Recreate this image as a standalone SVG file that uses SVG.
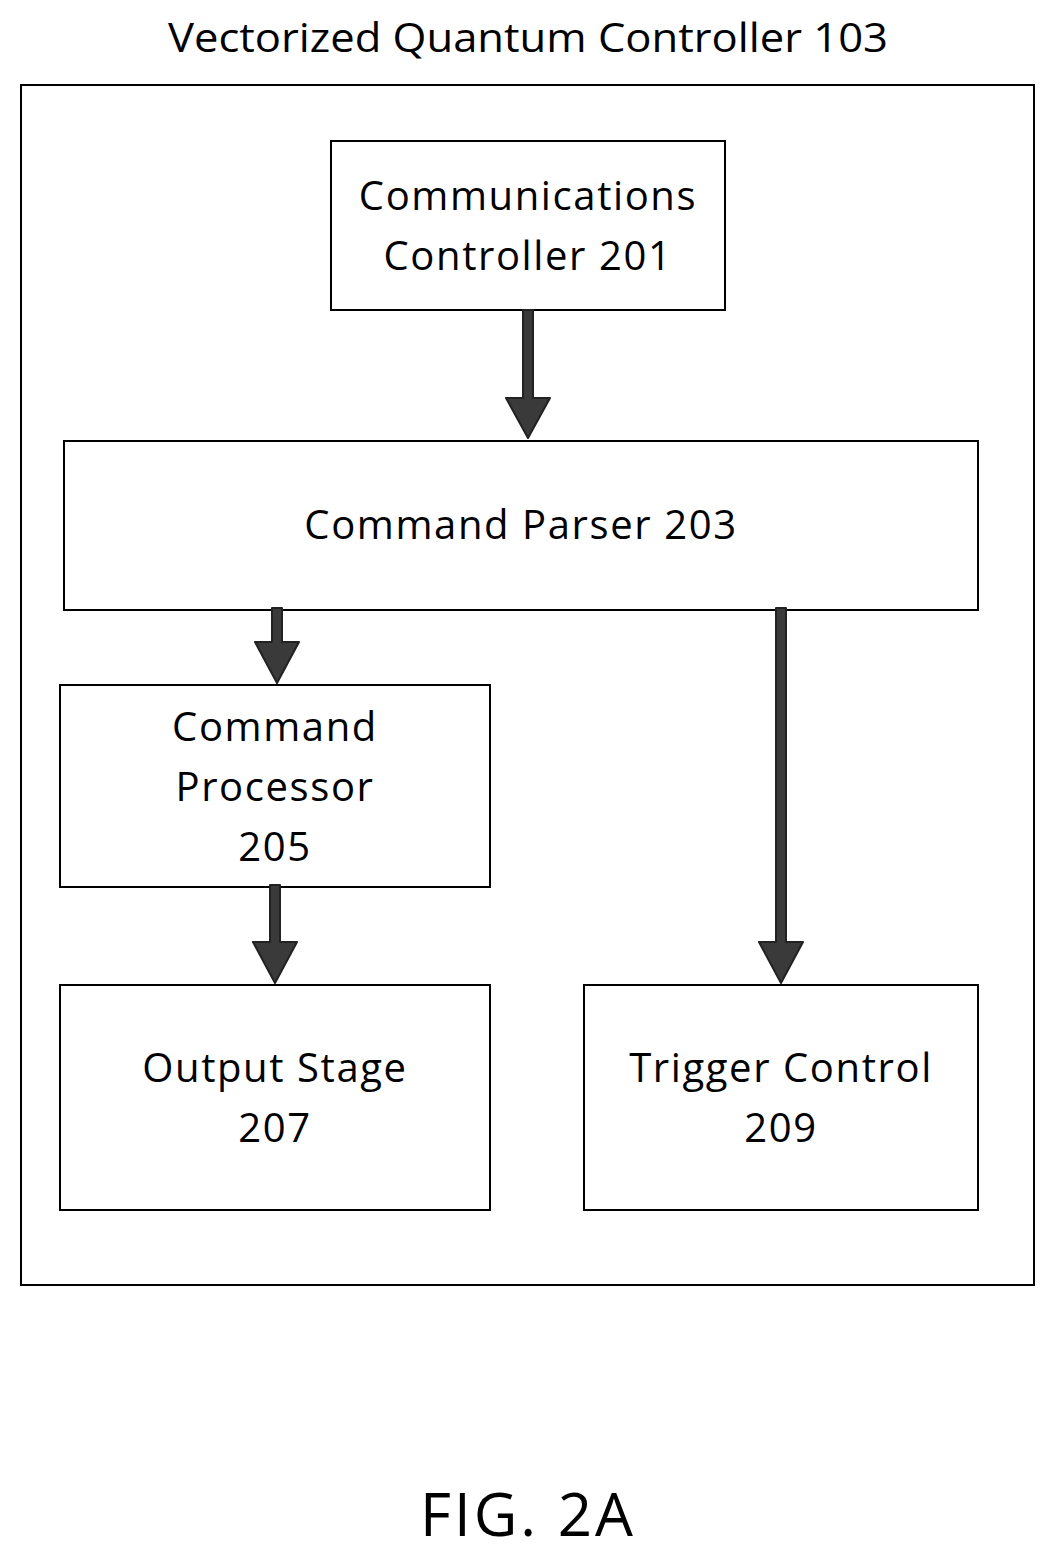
<svg xmlns="http://www.w3.org/2000/svg" width="1056" height="1559" viewBox="0 0 1056 1559">
<style>
.b{fill:#fff;stroke:#000;stroke-width:2}
.t{font-family:"Open Sans","Liberation Sans",sans-serif;font-size:40px;fill:#000;text-anchor:middle;letter-spacing:1.6px}
.a{fill:#3a3a3a;stroke:#222;stroke-width:2;stroke-linejoin:round}
</style>
<rect width="1056" height="1559" fill="#fff"/>
<text class="t" x="528" y="52" textLength="720" lengthAdjust="spacingAndGlyphs" style="letter-spacing:0">Vectorized Quantum Controller 103</text>
<rect class="b" x="21" y="85" width="1013" height="1200"/>
<g id="n201"><rect class="b" x="331" y="141" width="394" height="169"/>
<text class="t" x="528" y="210">Communications</text><text class="t" x="528" y="270">Controller 201</text></g>
<g id="n203"><rect class="b" x="64" y="441" width="914" height="169"/>
<text class="t" x="521" y="539">Command Parser 203</text></g>
<g id="n205"><rect class="b" x="60" y="685" width="430" height="202"/>
<text class="t" x="275" y="741">Command</text><text class="t" x="275" y="801">Processor</text><text class="t" x="275" y="861">205</text></g>
<g id="n207"><rect class="b" x="60" y="985" width="430" height="225"/>
<text class="t" x="275" y="1082">Output Stage</text><text class="t" x="275" y="1142">207</text></g>
<g id="n209"><rect class="b" x="584" y="985" width="394" height="225"/>
<text class="t" x="781" y="1082">Trigger Control</text><text class="t" x="781" y="1142">209</text></g>
<g id="connectors">
<polygon class="a" points="523,310 533,310 533,398 550,398 528,438 506,398 523,398"/>
<polygon class="a" points="272,608 282,608 282,642 299,642 277,683 255,642 272,642"/>
<polygon class="a" points="776,608 786,608 786,942 803,942 781,983 759,942 776,942"/>
<polygon class="a" points="270,885 280,885 280,942 297,942 275,983 253,942 270,942"/>
</g>
<text class="t" x="528" y="1536" style="font-size:60px;letter-spacing:3px">FIG. 2A</text>
</svg>
